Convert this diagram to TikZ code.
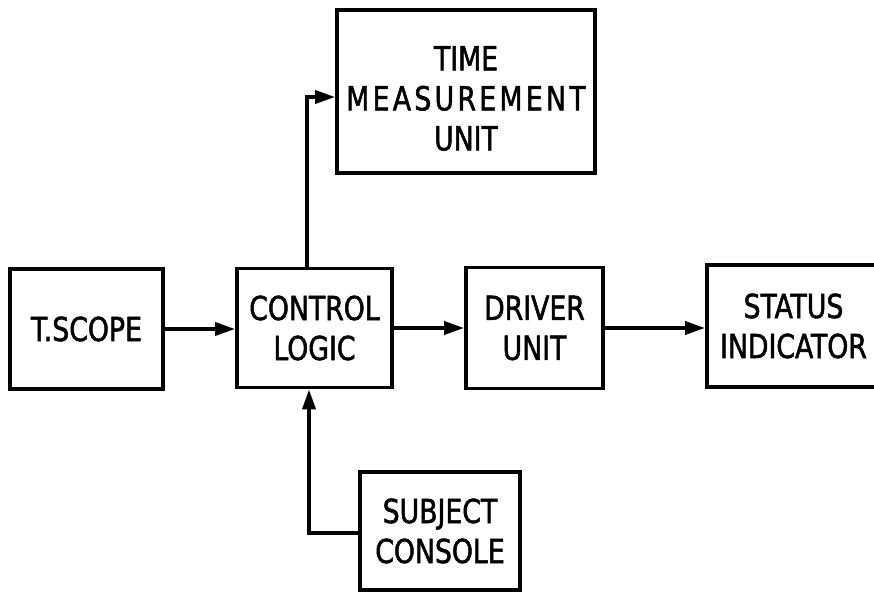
\documentclass[tikz,border=0pt]{standalone}
\usepackage{fontspec}
\newfontfamily\lettering[FakeStretch=0.9,FakeBold=1.5]{DejaVu Sans Condensed}
\usetikzlibrary{arrows.meta}
\begin{document}
\begin{tikzpicture}[x=1pt,y=-1pt,
  txt/.style={align=center, inner sep=0pt, font=\lettering\fontsize{33}{40}\selectfont},
  blk/.style={txt, draw, line width=3.8pt},
  link/.style={line width=3.6pt, -{Triangle[length=20pt,width=13pt]}},
  ]
\useasboundingbox (0,0) rectangle (874,593);
\clip (0,0) rectangle (874,593);

% blocks
\node[blk, minimum width=153pt, minimum height=120pt] (tscope) at (86.5,329) {T.SCOPE};
\node[blk, minimum width=155pt, minimum height=119pt] (ctrl) at (314.5,328) {CONTROL\\LOGIC};
\node[blk, minimum width=137pt, minimum height=121pt] (drv) at (534.5,328) {DRIVER\\UNIT};
\node[blk, minimum width=173pt, minimum height=122pt] (stat) at (793.5,326) {STATUS\\INDICATOR};
\node[blk, minimum width=258pt, minimum height=163pt,
      label={[txt, yshift=-7pt]center:TIME\\{\addfontfeature{LetterSpace=10}MEASUREMENT}\\UNIT}]
      (tmu) at (466,91.5) {};
\node[blk, minimum width=160pt, minimum height=118pt] (subj) at (440,531) {SUBJECT\\CONSOLE};

% bend points
\coordinate (upx) at (307,97);
\coordinate (dnx) at (309,533);

% connectors
\draw[link] (tscope.east) -- (tscope.east -| ctrl.west);
\draw[link] (ctrl.east) -- (ctrl.east -| drv.west);
\draw[link] (drv.east) -- (drv.east -| stat.west);
\draw[link] (ctrl.north -| upx) -- (upx) -- (upx -| tmu.west);
\draw[link] (subj.west |- dnx) -- (dnx) -- (dnx |- ctrl.south);
\end{tikzpicture}
\end{document}
